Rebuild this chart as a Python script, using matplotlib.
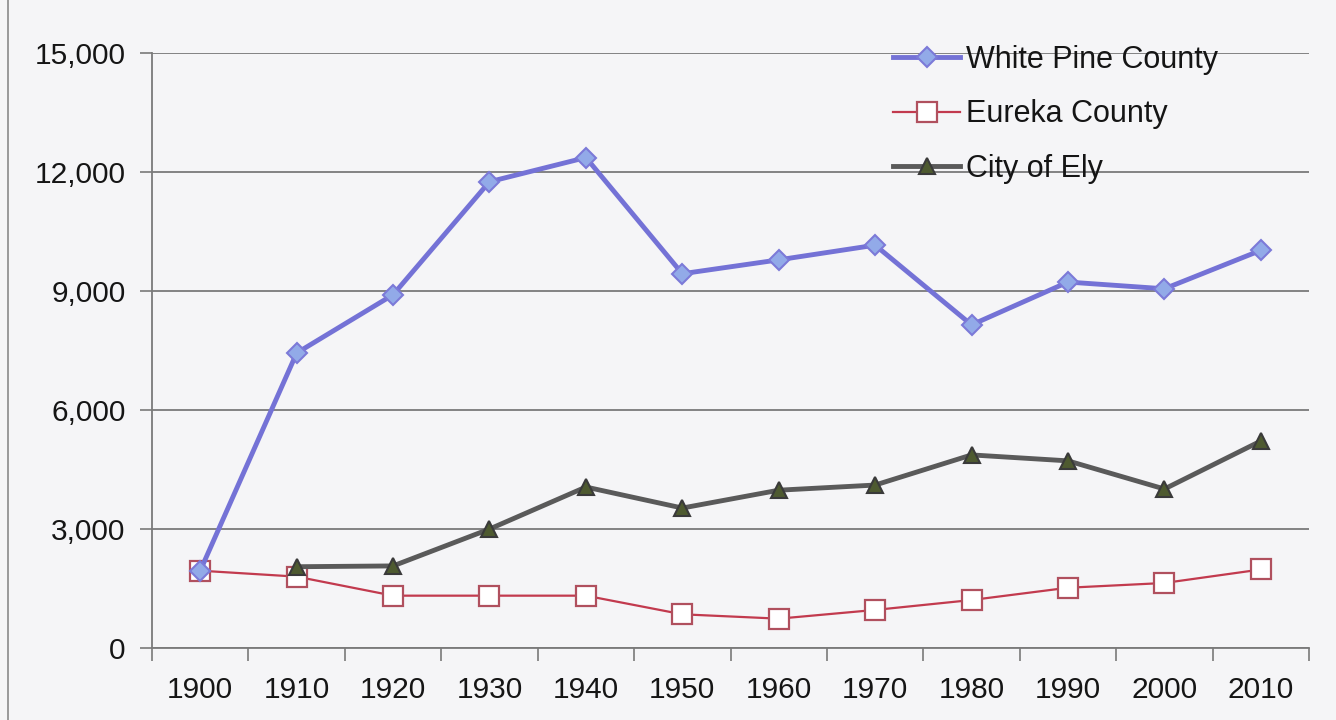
import matplotlib.pyplot as plt
from matplotlib.lines import Line2D
from matplotlib.ticker import FuncFormatter, FixedLocator

plt.rcParams["font.family"] = ["Liberation Sans", "DejaVu Sans"]

years = ["1900", "1910", "1920", "1930", "1940", "1950",
         "1960", "1970", "1980", "1990", "2000", "2010"]
white_pine = [1950, 7440, 8910, 11760, 12370, 9440, 9790, 10160, 8150, 9230, 9060, 10030]
eureka = [1950, 1800, 1320, 1320, 1320, 850, 740, 960, 1210, 1520, 1640, 1980]
ely_years = years[1:]
ely = [2050, 2070, 3000, 4060, 3530, 3980, 4110, 4870, 4720, 4010, 5220]
y_ticks = [0, 3000, 6000, 9000, 12000, 15000]

bg = "#f5f5f7"
grid_col = "#7a7a7a"
text_col = "#151515"

fig = plt.figure(figsize=(13.36, 7.2), dpi=100, facecolor=bg)
ax = fig.add_axes([0.1138, 0.1, 0.866, 0.826], facecolor=bg)

x = list(range(len(years)))
x_ely = x[1:]

ax.plot(x, white_pine, color="#7472d6", lw=3.5, marker="D", ms=10,
        mfc="#92aae8", mec="#7c7ad8", mew=1.5, zorder=4,
        label="White Pine County")
ax.plot(x, eureka, color="#c23a4e", lw=1.6, marker="s", ms=15,
        mfc="white", mec="#b0505e", mew=1.6, zorder=3,
        label="Eureka County")
ax.plot(x_ely, ely, color="#5a5a5a", lw=3.5, marker="^", ms=12,
        mfc="#4e5a30", mec="#3a3a3a", mew=1.5, zorder=3,
        label="City of Ely")

ax.set_xlim(-0.5, len(years) - 0.5)
ax.set_ylim(0, 15000)
ax.set_xticks(x)
ax.set_xticklabels(years)
ax.xaxis.set_minor_locator(FixedLocator([i - 0.5 for i in range(len(years) + 1)]))
ax.tick_params(axis="x", which="major", length=0, pad=20, labelsize=21.5,
               labelcolor=text_col)
ax.tick_params(axis="x", which="minor", length=9, color=grid_col, width=1.2)
ax.set_yticks(y_ticks)
ax.yaxis.set_major_formatter(FuncFormatter(lambda v, _: f"{int(v):,}"))
ax.tick_params(axis="y", length=9, color=grid_col, width=1.2, pad=10,
               labelsize=21.5, labelcolor=text_col)

ax.grid(axis="y", color=grid_col, lw=1.3)
ax.set_axisbelow(True)
for side in ("top", "right"):
    ax.spines[side].set_visible(False)
for side in ("left", "bottom"):
    ax.spines[side].set_color(grid_col)
    ax.spines[side].set_linewidth(1.3)

leg = ax.legend(loc="upper left", bbox_to_anchor=(893 / 1336, 1 - 45 / 720),
                bbox_transform=fig.transFigure, frameon=False, fontsize=22,
                handlelength=2.2, handletextpad=0.2, labelspacing=0.8,
                borderpad=0, borderaxespad=0)
for t in leg.get_texts():
    t.set_color(text_col)

# scanned page edge on the left
fig.add_artist(Line2D([8 / 1336, 8 / 1336], [0, 1], transform=fig.transFigure,
                      color="#8a8a8a", lw=1.2))

fig.savefig("out.png", dpi=100, facecolor=bg)
